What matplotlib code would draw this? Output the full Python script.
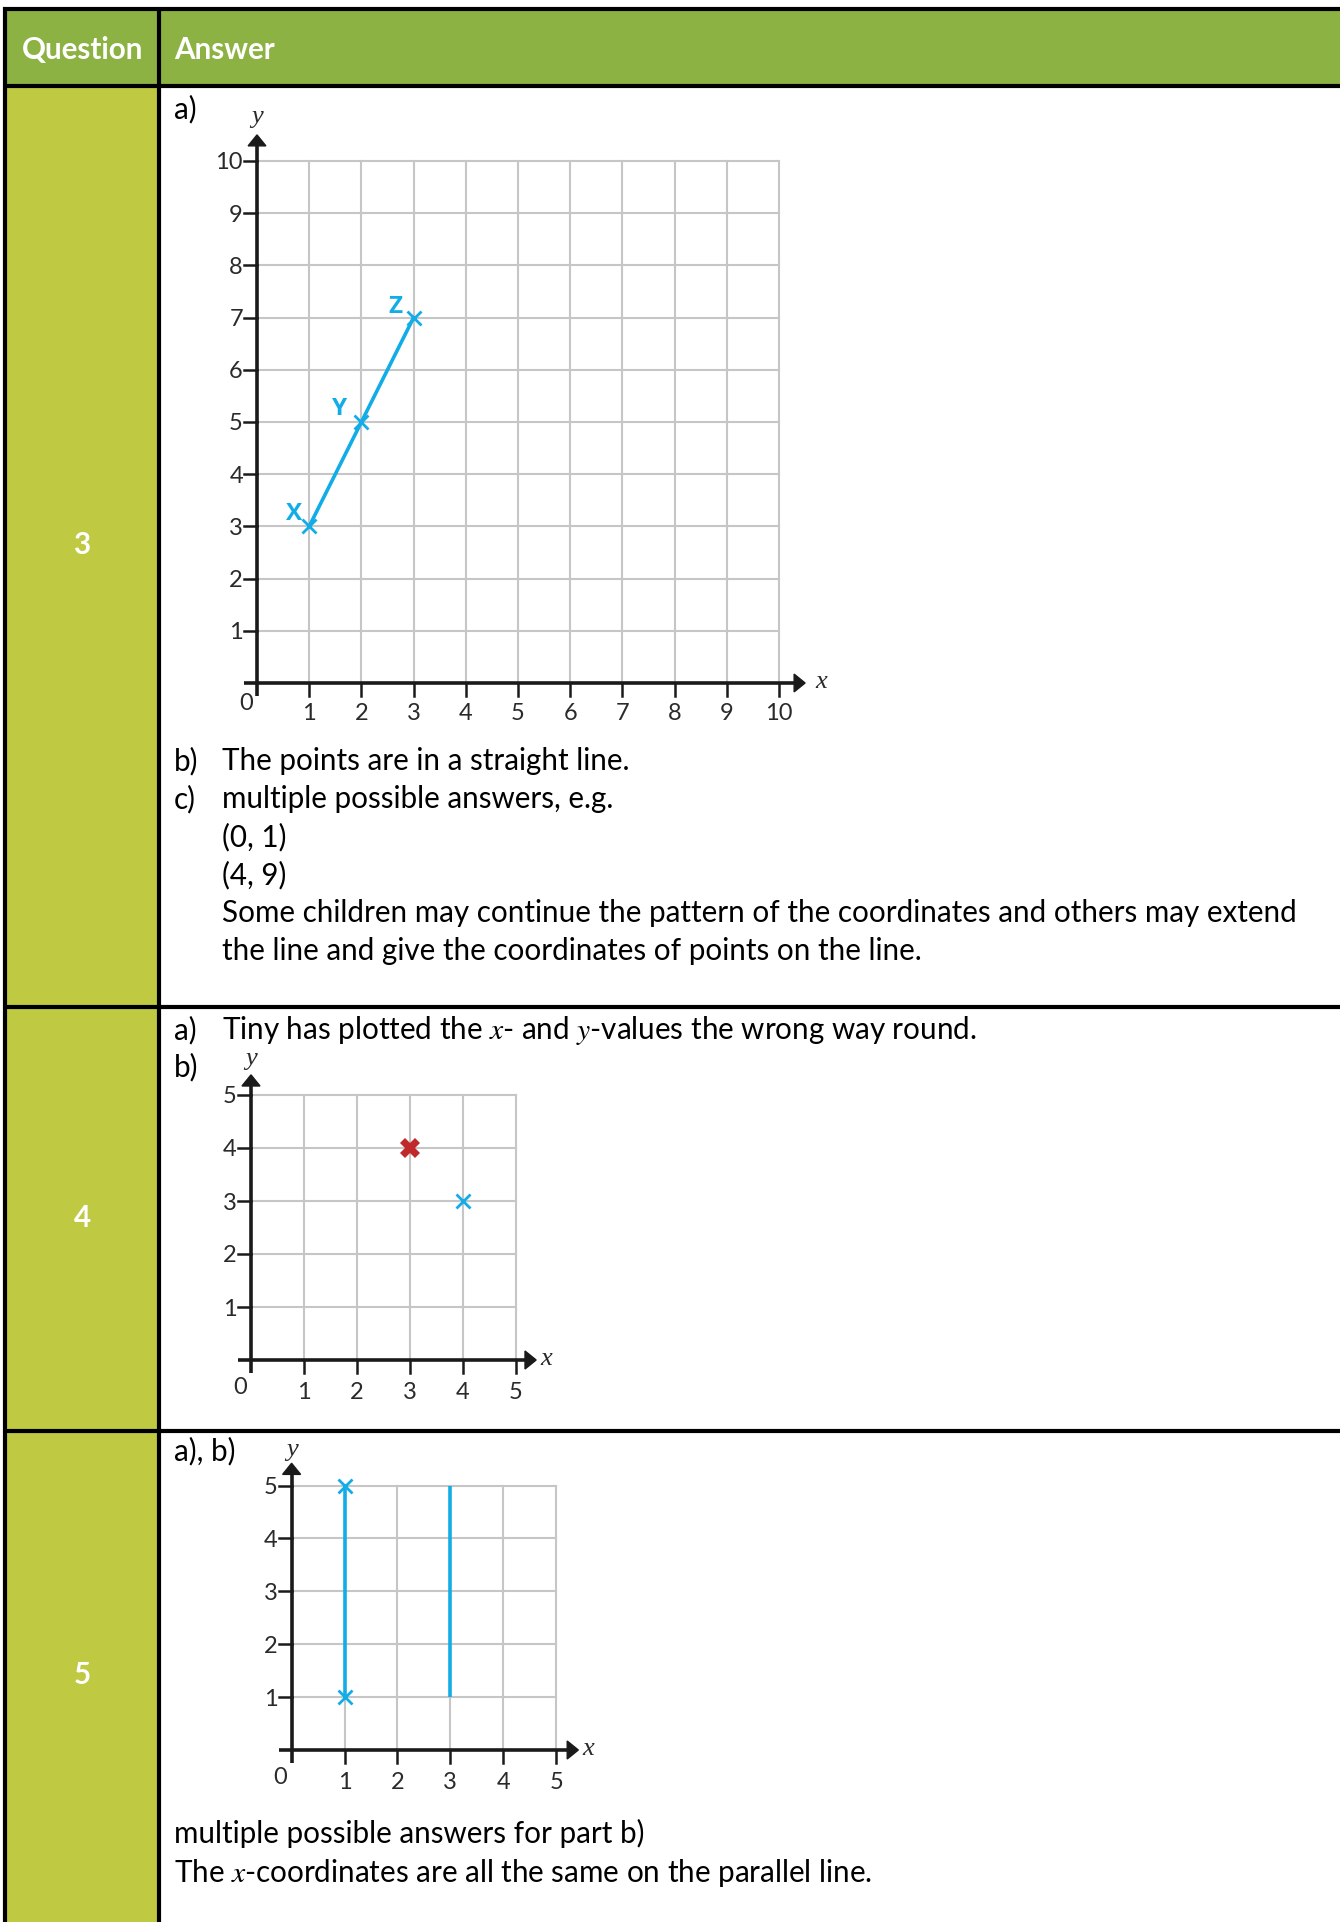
import matplotlib
matplotlib.use('Agg')
import matplotlib.pyplot as plt
from matplotlib.patches import Rectangle, Polygon

plt.rcParams['font.family'] = ['Lato', 'DejaVu Sans']
plt.rcParams['mathtext.fontset'] = 'stix'

# table content
header = ['Question', 'Answer']
questions = ['3', '4', '5']

q3_lines = [('b)', 'The points are in a straight line.'),
            ('c)', 'multiple possible answers, e.g.'),
            ('', '(0, 1)'),
            ('', '(4, 9)'),
            ('', 'Some children may continue the pattern of the coordinates and others may extend'),
            ('', 'the line and give the coordinates of points on the line.')]
q4_line = ('a)', 'Tiny has plotted the $x$- and $y$-values the wrong way round.')
q5_lines = ['multiple possible answers for part b)',
            'The $x$-coordinates are all the same on the parallel line.']

# chart data
pt_names = ['X', 'Y', 'Z']
pt_x = [1, 2, 3]
pt_y = [3, 5, 7]
wrong_x = [3]
wrong_y = [4]
right_x = [4]
right_y = [3]
given_x = [1, 1]
given_y = [1, 5]
parallel_x = [3, 3]
parallel_y = [1, 5]

W, H = 1340, 1922
header_green = '#8CB244'
q_green = '#BFC942'
blue = '#12ADE6'
red = '#C0282A'
grid_c = '#C6C6C6'
ink = '#1A1A1A'
fs = 21.3
tfs = 17

fig = plt.figure(figsize=(W / 100, H / 100), dpi=100)
base = fig.add_axes([0, 0, 1, 1])
base.set_xlim(0, W)
base.set_ylim(H, 0)
base.axis('off')

# backgrounds
base.add_patch(Rectangle((5, 9), W, 77, color=header_green, lw=0))
base.add_patch(Rectangle((5, 86), 154, H, color=q_green, lw=0))

# borders
for y in [9, 86, 1007, 1431]:
    base.plot([3, W], [y, y], color='black', lw=3, solid_capstyle='butt')
for x in [5, 159]:
    base.plot([x, x], [7, H], color='black', lw=3, solid_capstyle='butt')

base.text(22, 59, header[0], color='white', fontsize=fs, fontweight='bold')
base.text(174, 59, header[1], color='white', fontsize=fs, fontweight='bold')

row_mid = [(86 + 1007) / 2, (1007 + 1431) / 2, (1431 + 1922) / 2]
for q, ym in zip(questions, row_mid):
    base.text(82, ym + 8, q, color='white', fontsize=fs, fontweight='bold', ha='center')

# row 3 text
base.text(174, 118, 'a)', fontsize=fs)
for i, (lab, txt) in enumerate(q3_lines):
    yb = 770 + 38 * i
    if lab:
        base.text(174, yb, lab, fontsize=fs)
    base.text(222, yb, txt, fontsize=fs)

# row 4 text
base.text(174, 1039, q4_line[0], fontsize=fs)
base.text(222, 1039, q4_line[1], fontsize=fs)
base.text(174, 1076, 'b)', fontsize=fs)

# row 5 text
base.text(174, 1460, 'a), b)', fontsize=fs)
for i, txt in enumerate(q5_lines):
    base.text(174, 1843 + 39 * i, txt, fontsize=fs)


def grid_chart(ox, oy, u, n, ylab_y, xlab_x, zero_y, xtick_y, tip):
    x0, x1, y0, y1 = -1.2, n + 1.2, -1.2, n + 1.2
    left = (ox + x0 * u) / W
    bottom = (H - (oy - y0 * u)) / H
    ax = fig.add_axes([left, bottom, (x1 - x0) * u / W, (y1 - y0) * u / H])
    ax.set_xlim(x0, x1)
    ax.set_ylim(y0, y1)
    ax.axis('off')
    half = 8.5 / u  # half digit height in data units
    for i in range(1, n + 1):
        ax.plot([i, i], [0, n], color=grid_c, lw=1.5, zorder=1)
        ax.plot([0, n], [i, i], color=grid_c, lw=1.5, zorder=1)
        ax.plot([i, i], [0, -0.24], color=ink, lw=1.8, zorder=3)
        ax.plot([-0.24, 0], [i, i], color=ink, lw=1.8, zorder=3)
        ax.text(i, xtick_y - half, str(i), fontsize=tfs, color='#2A2A2A',
                ha='center', va='baseline')
        ax.text(-0.27, i - half, str(i), fontsize=tfs, color='#2A2A2A',
                ha='right', va='baseline')
    ax.text(-0.08, zero_y - half, '0', fontsize=tfs, color='#2A2A2A',
            ha='right', va='baseline')
    ax.plot([-0.24, tip - 0.1], [0, 0], color=ink, lw=2.6, zorder=3, solid_capstyle='butt')
    ax.plot([0, 0], [-0.24, tip - 0.1], color=ink, lw=2.6, zorder=3, solid_capstyle='butt')
    ax.add_patch(Polygon([(-0.17, tip - 0.21), (0.17, tip - 0.21), (0, tip)],
                         closed=True, color=ink, zorder=3))
    ax.add_patch(Polygon([(tip - 0.21, -0.17), (tip - 0.21, 0.17), (tip, 0)],
                         closed=True, color=ink, zorder=3))
    ax.text(0, ylab_y, 'y', fontsize=19, fontstyle='italic', family='Liberation Serif',
            ha='center', va='center', color='#2A2A2A')
    ax.text(xlab_x, 0.02, 'x', fontsize=19, fontstyle='italic', family='Liberation Serif',
            ha='center', va='center', color='#2A2A2A')
    return ax


# chart a) question 3
ax1 = grid_chart(257, 683, 52.2, 10, 10.85, 10.8, -0.36, -0.54, 10.5)
ax1.plot(pt_x, pt_y, color=blue, lw=2.6, marker='x', ms=10, mew=2, zorder=4)
name_off = [(-0.29, 0.12), (-0.41, 0.13), (-0.34, 0.09)]
for nm, px, py, (dx, dy) in zip(pt_names, pt_x, pt_y, name_off):
    ax1.text(px + dx, py + dy, nm, color=blue, fontsize=17.5, fontweight='bold',
             family='Open Sans', ha='center', va='baseline')

# chart b) question 4
ax2 = grid_chart(251, 1360, 53, 5, 5.68, 5.57, -0.48, -0.57, 5.38)
ax2.plot(wrong_x, wrong_y, linestyle='none', marker='X', ms=14, color=red, mew=0, zorder=4)
ax2.plot(right_x, right_y, linestyle='none', marker='x', ms=10, mew=2, color=blue, zorder=4)

# chart a), b) question 5
ax3 = grid_chart(291.6, 1750, 52.9, 5, 5.67, 5.6, -0.48, -0.57, 5.42)
ax3.plot(given_x, given_y, color=blue, lw=2.6, marker='x', ms=10, mew=2, zorder=4)
ax3.plot(parallel_x, parallel_y, color=blue, lw=2.6, zorder=4, solid_capstyle='butt')

fig.savefig('out.png', dpi=100)
